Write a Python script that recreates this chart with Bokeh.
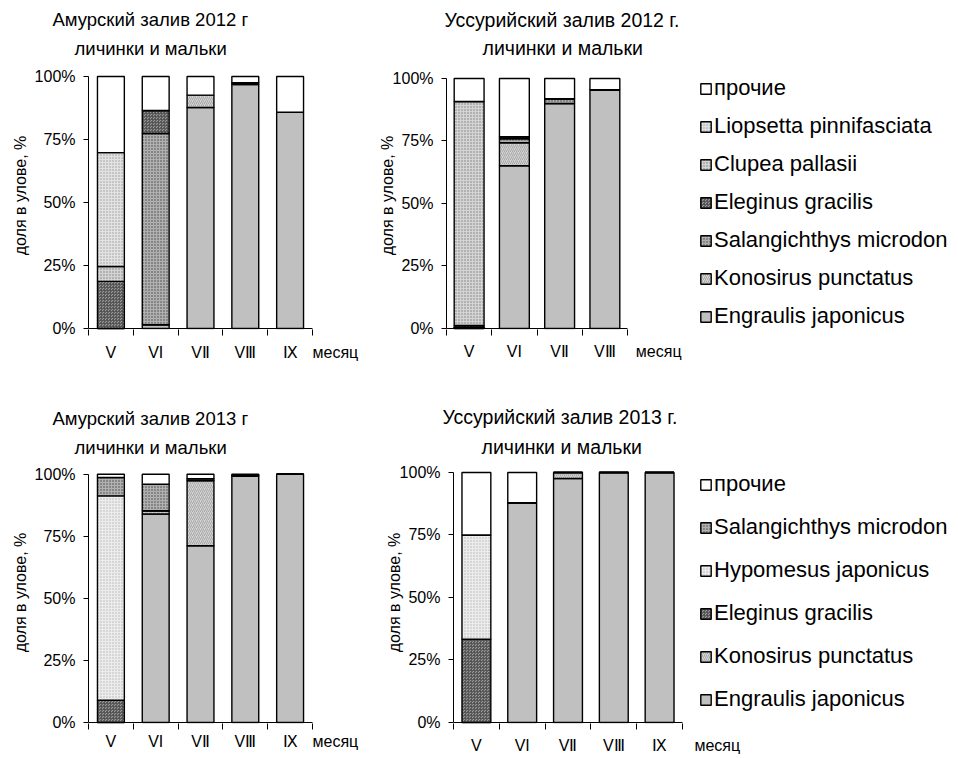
from bokeh.plotting import figure
from bokeh.layouts import column, row
from bokeh.models import (ColumnDataSource, Range1d, LinearAxis, FixedTicker,
                          PrintfTickFormatter, Title, Legend, LegendItem)
from bokeh.embed import file_html
from bokeh.resources import INLINE

FONT = "Liberation Sans"

# ---- data: share of catch, % (larvae and fry) ----
months_amur_2012 = ["V", "VI", "VⅡ", "VⅢ", "Ⅸ"]
months_uss_2012 = ["V", "VI", "VⅡ", "VⅢ"]
months_2013 = ["V", "VI", "VⅡ", "VⅢ", "Ⅸ"]
x_title = "месяц"

# Амурский залив 2012
amur12_engraulis = [0.0, 1.5, 87.7, 96.8, 85.8]
amur12_konosirus = [0.0, 0.0, 4.9, 0.7, 0.0]
amur12_salangichthys = [0.0, 75.9, 0.0, 0.0, 0.0]
amur12_eleginus = [18.7, 9.1, 0.0, 0.0, 0.0]
amur12_clupea = [5.9, 0.0, 0.0, 0.0, 0.0]
amur12_liopsetta = [45.2, 0.0, 0.0, 0.0, 0.0]
amur12_other = [30.2, 13.5, 7.4, 2.5, 14.2]

# Уссурийский залив 2012
uss12_engraulis = [0.0, 65.1, 90.0, 95.5]
uss12_konosirus = [0.0, 9.2, 0.0, 0.0]
uss12_salangichthys = [0.5, 1.6, 1.9, 0.0]
uss12_eleginus = [0.7, 0.8, 0.0, 0.0]
uss12_clupea = [89.6, 0.0, 0.0, 0.0]
uss12_liopsetta = [0.0, 0.0, 0.0, 0.0]
uss12_other = [9.2, 23.3, 8.1, 4.5]

# Амурский залив 2013
amur13_engraulis = [0.0, 84.0, 71.2, 99.3, 100.0]
amur13_konosirus = [0.0, 1.3, 26.3, 0.0, 0.0]
amur13_eleginus = [9.0, 0.0, 0.0, 0.0, 0.0]
amur13_hypomesus = [82.3, 0.0, 0.0, 0.0, 0.0]
amur13_salangichthys = [7.4, 10.7, 0.7, 0.4, 0.0]
amur13_other = [1.3, 4.0, 1.8, 0.3, 0.0]

# Уссурийский залив 2013
uss13_engraulis = [0.0, 87.9, 97.6, 100.0, 100.0]
uss13_konosirus = [0.0, 0.0, 2.4, 0.0, 0.0]
uss13_eleginus = [33.3, 0.0, 0.0, 0.0, 0.0]
uss13_hypomesus = [41.7, 0.0, 0.0, 0.0, 0.0]
uss13_salangichthys = [0.0, 0.0, 0.0, 0.0, 0.0]
uss13_other = [25.0, 12.1, 0.0, 0.0, 0.0]

y_ticks = [0, 25, 50, 75, 100]

# ---- fill styles per species (Excel-like grey pattern fills) ----
STYLE = {
    "Engraulis japonicus": ("#c0c0c0", " ", "#c0c0c0", 4, 1.0),
    "Konosirus punctatus": ("#d4d4d4", "right_diagonal_line", "#9c9c9c", 4, 0.8),
    "Salangichthys microdon": ("#b0b0b0", "dot", "#464646", 3, 1.0),
    "Eleginus gracilis": ("#9a9a9a", "criss_cross", "#505050", 3, 0.8),
    "Clupea pallasii": ("#d4d4d4", "dot", "#7c7c7c", 3, 1.0),
    "Liopsetta pinnifasciata": ("#e2e2e2", "dot", "#9a9a9a", 3, 1.0),
    "Hypomesus japonicus": ("#ececec", "dot", "#b4b4b4", 3, 1.0),
    "прочие": ("#ffffff", " ", "#ffffff", 4, 1.0),
}


def make_chart(months, series, title, width, height, left, top100, zero_px, cat_px,
               bar_width, head_px, title_font, title_offsets, title_standoffs,
               x_title_pos, cat_standoff, ylab_standoff, legend_xy=None,
               legend_spacing=12):
    """One stacked-percent panel. The frame runs from the y axis to the right edge
    (and a little above 100 %), so the legend sits inside it; the axis lines are
    bounded to the 0..100 % / month span."""
    n = len(months)
    centers = [i + 0.5 for i in range(n)]
    edges = list(range(n + 1))
    ppu = (zero_px - top100) / 100.0          # pixels per percent
    x_end = (width - left) / cat_px

    p = figure(x_range=Range1d(0, x_end),
               y_range=Range1d(-1.0 / ppu, 100 + head_px / ppu),
               width=width, height=height, x_axis_location=None, title=None,
               toolbar_location=None, output_backend="svg",
               min_border_left=left, min_border_right=0,
               min_border_top=top100 - head_px, min_border_bottom=height - zero_px - 1)
    p.outline_line_color = None
    p.xgrid.grid_line_color = None
    p.ygrid.grid_line_color = None
    p.background_fill_color = "white"
    p.border_fill_color = "white"

    # y axis in percent
    ya = p.yaxis[0]
    ya.bounds = (0, 100)
    ya.ticker = FixedTicker(ticks=y_ticks)
    ya.formatter = PrintfTickFormatter(format="%d%%")
    ya.major_tick_out = 5
    ya.major_tick_in = 0
    ya.minor_tick_line_color = None
    ya.axis_line_color = "black"
    ya.major_tick_line_color = "black"
    ya.major_label_text_font = FONT
    ya.major_label_text_font_size = "16px"
    ya.major_label_text_color = "black"
    ya.major_label_standoff = 8
    ya.axis_label = "доля в улове, %"
    ya.axis_label_text_font = FONT
    ya.axis_label_text_font_size = "16px"
    ya.axis_label_text_font_style = "normal"
    ya.axis_label_text_color = "black"
    ya.axis_label_standoff = ylab_standoff

    # month axis: labels at bar centres, tick marks between months,
    # axis title written in the same row after the last month
    tick_pos = centers + [n + x_title_pos]
    tick_txt = months + [x_title]
    xa = LinearAxis(ticker=FixedTicker(ticks=tick_pos, minor_ticks=edges),
                    major_label_overrides={c: m for c, m in zip(tick_pos, tick_txt)},
                    major_tick_out=0, major_tick_in=0,
                    minor_tick_out=6, minor_tick_in=0,
                    axis_line_color=None, minor_tick_line_color="black",
                    major_label_text_font=FONT, major_label_text_font_size="16px",
                    major_label_text_color="black",
                    major_label_standoff=cat_standoff)
    p.add_layout(xa, "below")
    # axis line over the month span only
    p.segment(x0=[0], y0=[0], x1=[n], y1=[0], line_color="black", line_width=1)

    # stacked bars
    data = {"x": centers}
    keys = []
    for i, (name, vals) in enumerate(series):
        key = "s%d" % i
        data[key] = vals
        keys.append(key)
    src = ColumnDataSource(data)
    names = [nm for nm, _ in series]
    rends = p.vbar_stack(keys, x="x", width=bar_width, source=src,
                         fill_color=[STYLE[nm][0] for nm in names],
                         hatch_pattern=[STYLE[nm][1] for nm in names],
                         hatch_color=[STYLE[nm][2] for nm in names],
                         hatch_scale=[STYLE[nm][3] for nm in names],
                         hatch_weight=[STYLE[nm][4] for nm in names],
                         line_color="black", line_width=1.4)

    # two-line title, second line added first (closest to the frame)
    for txt, off, so in reversed(list(zip(title, title_offsets, title_standoffs))):
        p.add_layout(Title(text=txt, align="left", offset=off, standoff=so,
                           text_font=FONT, text_font_size=title_font,
                           text_font_style="normal", text_color="black"), "above")

    if legend_xy is not None:
        items = [LegendItem(label=nm, renderers=[r]) for nm, r in zip(names, rends)][::-1]
        leg = Legend(items=items, location=legend_xy, orientation="vertical",
                     label_text_font=FONT, label_text_font_size="22px",
                     label_text_color="black", glyph_width=13, glyph_height=13,
                     label_height=24, spacing=legend_spacing, padding=0, margin=0,
                     label_standoff=2, border_line_color=None,
                     background_fill_alpha=0)
        p.add_layout(leg)
    return p


p1 = make_chart(months_amur_2012,
                [("Engraulis japonicus", amur12_engraulis),
                 ("Konosirus punctatus", amur12_konosirus),
                 ("Salangichthys microdon", amur12_salangichthys),
                 ("Eleginus gracilis", amur12_eleginus),
                 ("Clupea pallasii", amur12_clupea),
                 ("Liopsetta pinnifasciata", amur12_liopsetta),
                 ("прочие", amur12_other)],
                ("Амурский залив 2012 г", "личинки и мальки"),
                width=370, height=380, left=88, top100=76, zero_px=328, cat_px=44.8,
                bar_width=0.6, head_px=15, title_font="18.5px",
                title_offsets=(-36, -14), title_standoffs=(5, 6),
                x_title_pos=0.51, cat_standoff=8, ylab_standoff=3)

p2 = make_chart(months_uss_2012,
                [("Engraulis japonicus", uss12_engraulis),
                 ("Konosirus punctatus", uss12_konosirus),
                 ("Salangichthys microdon", uss12_salangichthys),
                 ("Eleginus gracilis", uss12_eleginus),
                 ("Clupea pallasii", uss12_clupea),
                 ("Liopsetta pinnifasciata", uss12_liopsetta),
                 ("прочие", uss12_other)],
                ("Уссурийский залив 2012 г.", "личинки и мальки"),
                width=588, height=380, left=76, top100=78, zero_px=329, cat_px=45.25,
                bar_width=0.66, head_px=17, title_font="19.5px",
                title_offsets=(-2, 36), title_standoffs=(4, 5),
                x_title_pos=0.69, cat_standoff=7, ylab_standoff=-6,
                legend_xy=(253, 0), legend_spacing=12)

p3 = make_chart(months_2013,
                [("Engraulis japonicus", amur13_engraulis),
                 ("Konosirus punctatus", amur13_konosirus),
                 ("Eleginus gracilis", amur13_eleginus),
                 ("Hypomesus japonicus", amur13_hypomesus),
                 ("Salangichthys microdon", amur13_salangichthys),
                 ("прочие", amur13_other)],
                ("Амурский залив 2013 г", "личинки и мальки"),
                width=370, height=378, left=88, top100=94, zero_px=347, cat_px=44.8,
                bar_width=0.6, head_px=13, title_font="18.5px",
                title_offsets=(-36, -14), title_standoffs=(6, 7),
                x_title_pos=0.51, cat_standoff=3, ylab_standoff=3)

p4 = make_chart(months_2013,
                [("Engraulis japonicus", uss13_engraulis),
                 ("Konosirus punctatus", uss13_konosirus),
                 ("Eleginus gracilis", uss13_eleginus),
                 ("Hypomesus japonicus", uss13_hypomesus),
                 ("Salangichthys microdon", uss13_salangichthys),
                 ("прочие", uss13_other)],
                ("Уссурийский залив 2013 г.", "личинки и мальки"),
                width=588, height=378, left=83, top100=91, zero_px=342, cat_px=45.8,
                bar_width=0.63, head_px=11, title_font="19.5px",
                title_offsets=(-11, 28), title_standoffs=(6, 7),
                x_title_pos=0.76, cat_standoff=7, ylab_standoff=-6,
                legend_xy=(246, 11), legend_spacing=17)

layout = column(row(p1, p2), row(p3, p4))
open("out.html", "w").write(file_html(layout, INLINE))
